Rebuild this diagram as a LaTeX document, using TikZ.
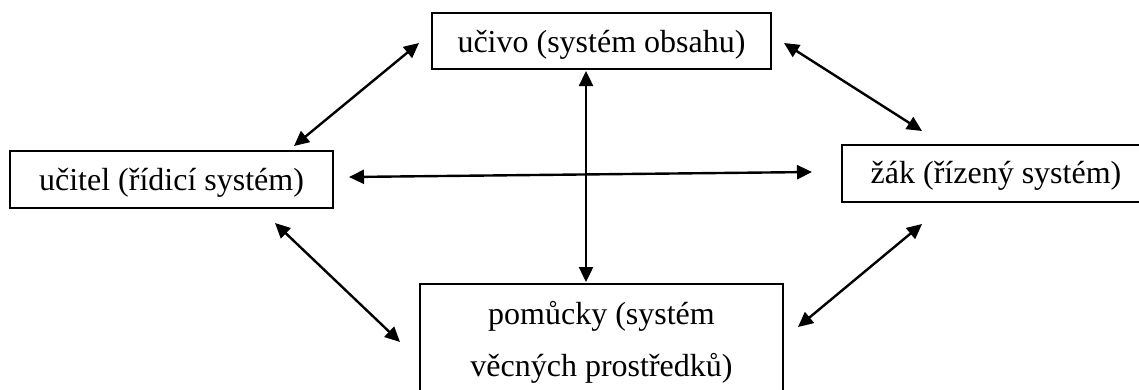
\documentclass[tikz,border=0pt]{standalone}
\usepackage{fontspec}
\setmainfont{Liberation Serif}
\usetikzlibrary{arrows.meta,calc}
\tikzset{
  box/.style={draw=black, line width=2pt, inner sep=0pt, align=center,
    font=\fontsize{32}{52}\selectfont},
  link/.style={line width=2.4pt, {Triangle[length=15pt,width=14pt]}-{Triangle[length=15pt,width=14pt]}}
}
\begin{document}
\begin{tikzpicture}[x=1pt,y=-1pt]
\useasboundingbox (0,0) rectangle (1139,389);
\clip (0,0) rectangle (1139,389);
\node[box, minimum width=339pt, minimum height=56pt, text height=26pt, text depth=4pt] (T) at (601.5,41) {učivo (systém obsahu)};
\node[box, minimum width=323pt, minimum height=57pt, text height=26pt, text depth=4pt] (L) at (171.5,179.5) {učitel (řídicí systém)};
\node[box, minimum width=308pt, minimum height=57pt, text height=24pt, text depth=5pt] (R) at (996,173.5) {žák (řízený systém)};
\node[box, anchor=north, minimum width=363pt, inner ysep=17pt] (B) at (601.5,283) {pomůcky (systém\\věcných prostředků)};
\draw[link] ($(L.north east)+(-40,-4)$) -- ($(T.west)+(-12,2)$);
\draw[link] ($(T.east)+(12,2)$) -- ($(R.north west)+(81,-13)$);
\draw[link] ($(L.east)+(15,-2.5)$) -- ($(R.west)+(-29,-1.5)$);
\draw[link] ($(T.south)+(-15.5,1)$) -- ($(B.north)+(-15.5,-1)$);
\draw[link] ($(L.south east)+(-59,14)$) -- ($(B.north west)+(-19,59)$);
\draw[link] ($(B.north east)+(14,44)$) -- ($(R.south west)+(81,21)$);
\end{tikzpicture}
\end{document}
